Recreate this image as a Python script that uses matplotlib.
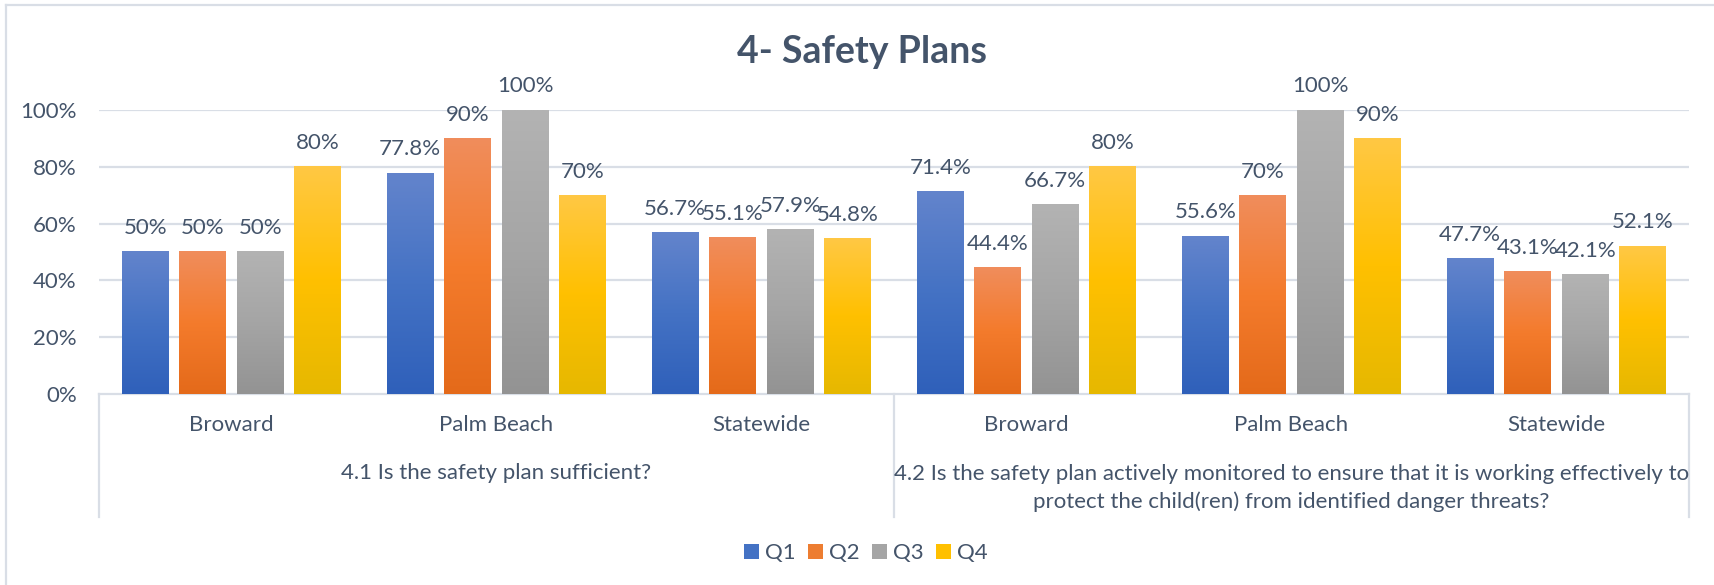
import matplotlib
matplotlib.use("Agg")
import matplotlib.pyplot as plt
import numpy as np
from matplotlib.colors import LinearSegmentedColormap
from matplotlib.lines import Line2D

# ---------------- data ----------------
subcategories = ["Broward", "Palm Beach", "Statewide", "Broward", "Palm Beach", "Statewide"]
groups = ["4.1 Is the safety plan sufficient?",
          "4.2 Is the safety plan actively monitored to ensure that it is working effectively to\nprotect the child(ren) from identified danger threats?"]
series_names = ["Q1", "Q2", "Q3", "Q4"]
q1 = [0.50, 0.778, 0.567, 0.714, 0.556, 0.477]
q2 = [0.50, 0.90, 0.551, 0.444, 0.70, 0.431]
q3 = [0.50, 1.00, 0.579, 0.667, 1.00, 0.421]
q4 = [0.80, 0.70, 0.548, 0.80, 0.90, 0.521]
labels_q1 = ["50%", "77.8%", "56.7%", "71.4%", "55.6%", "47.7%"]
labels_q2 = ["50%", "90%", "55.1%", "44.4%", "70%", "43.1%"]
labels_q3 = ["50%", "100%", "57.9%", "66.7%", "100%", "42.1%"]
labels_q4 = ["80%", "70%", "54.8%", "80%", "90%", "52.1%"]
yticks = [0, 0.2, 0.4, 0.6, 0.8, 1.0]
ytick_labels = ["0%", "20%", "40%", "60%", "80%", "100%"]

values = [q1, q2, q3, q4]
value_labels = [labels_q1, labels_q2, labels_q3, labels_q4]

# ---------------- style ----------------
TXT = "#44546A"
GRID = "#D9DEE6"
FONT = "Lato"
FS = 16
mid_colors = ["#4472C4", "#ED7D31", "#A5A5A5", "#FFC000"]
grads = [
    ["#6384CC", "#4472C4", "#2F60BA"],
    ["#F08D5C", "#F47B2C", "#E46A1A"],
    ["#B3B3B3", "#A5A5A5", "#939393"],
    ["#FFC844", "#FFC000", "#E6B800"],
]

W, H = 1715, 585
fig = plt.figure(figsize=(W / 100, H / 100), dpi=100)
fig.patch.set_facecolor("white")

ax_left, ax_right, ax_top, ax_bot = 99, 1689, 110, 394
ax = fig.add_axes([ax_left / W, 1 - ax_bot / H, (ax_right - ax_left) / W, (ax_bot - ax_top) / H])

x = np.arange(len(subcategories))
step = 57.5 / 265
bw = 47 / 265
offsets = (np.arange(4) - 1.5) * step

for i, (vals, name) in enumerate(zip(values, series_names)):
    bars = ax.bar(x + offsets[i], vals, width=bw, color=mid_colors[i], label=name, zorder=2)
    cmap = LinearSegmentedColormap.from_list(f"g{i}", grads[i][::-1])
    grad = np.linspace(0, 1, 256).reshape(-1, 1)
    for b, lab in zip(bars, value_labels[i]):
        x0, w, h = b.get_x(), b.get_width(), b.get_height()
        ax.imshow(grad, cmap=cmap, extent=(x0, x0 + w, 0, h), origin="lower",
                  aspect="auto", zorder=3, interpolation="bilinear")
        ax.annotate(lab, (x0 + w / 2, h), xytext=(0, 17), textcoords="offset points",
                    ha="center", va="center", fontsize=FS, color=TXT, family=FONT,
                    annotation_clip=False)
ax.set_xlim(-0.5, len(subcategories) - 0.5)
ax.set_ylim(0, 1.0)

# grid & spines
ax.set_yticks(yticks)
ax.set_yticklabels(ytick_labels, fontsize=FS, color=TXT, family=FONT)
ax.tick_params(axis="y", length=0, pad=16)
ax.set_xticks([])
for y in yticks[1:]:
    ax.axhline(y, color=GRID, lw=1.6, zorder=1)
for s in ["top", "right", "left"]:
    ax.spines[s].set_visible(False)
ax.spines["bottom"].set_color(GRID)
ax.spines["bottom"].set_linewidth(1.6)

# multi-level category axis
axh = ax_bot - ax_top
tr = ax.get_xaxis_transform()
sep_bottom = -(517 - ax_bot) / axh
for xs in [-0.5, 2.5, 5.5]:
    ax.plot([xs, xs], [0, sep_bottom], transform=tr, color=GRID, lw=1.6, clip_on=False)
for xi, lab in zip(x, subcategories):
    ax.text(xi, -(425 - ax_bot) / axh, lab, transform=tr, ha="center", va="center",
            fontsize=FS, color=TXT, family=FONT)
ax.text(1.0, -(473 - ax_bot) / axh, groups[0], transform=tr, ha="center", va="center",
        fontsize=FS, color=TXT, family=FONT)
ax.text(4.0, -(488 - ax_bot) / axh, groups[1], transform=tr, ha="center", va="center",
        fontsize=FS, color=TXT, family=FONT, linespacing=1.4, multialignment="center")

# title
fig.text(862 / W, 1 - 52 / H, "4- Safety Plans", ha="center", va="center",
         fontsize=27, fontweight="bold", color=TXT, family=FONT)

# legend
leg = ax.legend(loc="center", bbox_to_anchor=(866 / W, 1 - 553 / H), bbox_transform=fig.transFigure,
                ncol=4, frameon=False, handlelength=0.65, handleheight=0.65, handletextpad=0.3,
                columnspacing=0.55, prop={"family": FONT, "size": FS})
for t in leg.get_texts():
    t.set_color(TXT)

# outer frame lines (left and top)
fig.add_artist(Line2D([6 / W, 6 / W], [0, 1 - 5 / H], color=GRID, lw=1.6))
fig.add_artist(Line2D([6 / W, 1], [1 - 5 / H, 1 - 5 / H], color=GRID, lw=1.6))

fig.savefig("out.png", dpi=100, facecolor="white")
